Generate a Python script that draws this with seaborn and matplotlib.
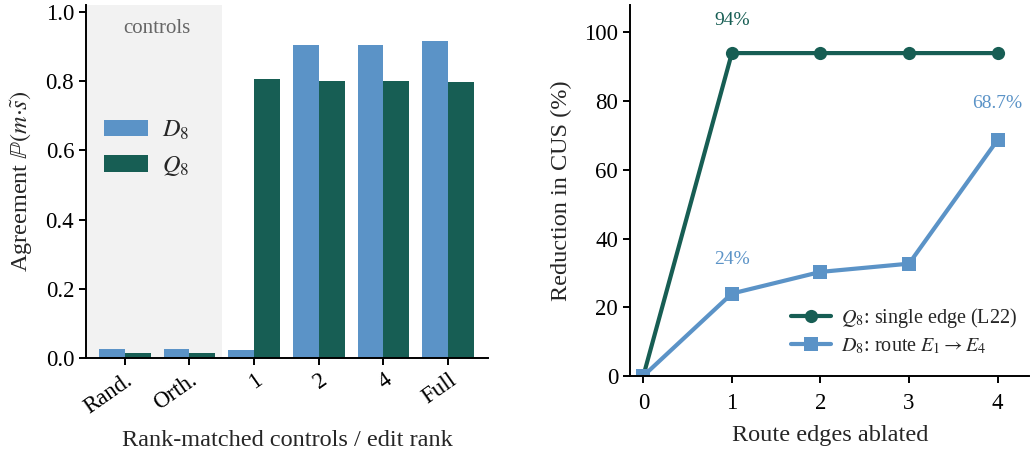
import numpy as np
import pandas as pd
import matplotlib
matplotlib.use("Agg")
import matplotlib.pyplot as plt
import seaborn as sns

# ---- data ----
ranks = ["Rand.", "Orth.", "1", "2", "4", "Full"]
agree_d8 = [0.027, 0.027, 0.024, 0.903, 0.905, 0.917]
agree_q8 = [0.015, 0.015, 0.807, 0.801, 0.801, 0.798]

edges_ablated = [0, 1, 2, 3, 4]
cus_q8 = [0.0, 94.0, 94.0, 94.0, 94.0]
cus_d8 = [0.0, 24.0, 30.3, 32.7, 68.7]

blue = "#5B93C7"
green = "#175E54"

sns.set_theme(style="ticks")
plt.rcParams["font.family"] = ["Liberation Serif", "DejaVu Serif"]
plt.rcParams["mathtext.fontset"] = "stix"
plt.rcParams["axes.linewidth"] = 1.4
plt.rcParams["xtick.major.width"] = 1.4
plt.rcParams["ytick.major.width"] = 1.4
plt.rcParams["xtick.major.size"] = 5
plt.rcParams["ytick.major.size"] = 5
plt.rcParams["xtick.color"] = "black"
plt.rcParams["ytick.color"] = "black"
plt.rcParams["axes.edgecolor"] = "black"

TICK = 16.5
LABEL = 17.5

fig = plt.figure(figsize=(10.32, 4.54), dpi=100)
ax1 = fig.add_axes([0.0833, 0.2115, 0.3897, 0.7775])
ax2 = fig.add_axes([0.6105, 0.1718, 0.3870, 0.8172])

# ---- left: agreement bars ----
bars = pd.DataFrame({
    "rank": ranks * 2,
    "agree": agree_d8 + agree_q8,
    "model": ["$D_8$"] * len(ranks) + ["$Q_8$"] * len(ranks),
})
ax1.axvspan(-0.6, 1.5, color="#f2f2f2", zorder=0, lw=0)
sns.barplot(data=bars, x="rank", y="agree", hue="model", order=ranks,
            hue_order=["$D_8$", "$Q_8$"], palette=[blue, green],
            width=0.8, saturation=1, linewidth=0, ax=ax1, zorder=2)
ax1.text(0.5, 0.952, "controls", ha="center", va="center", fontsize=15,
         color="#666666")
ax1.set_xlim(-0.6, 5.62)
ax1.set_ylim(0, 1.02)
ax1.set_yticks([0.0, 0.2, 0.4, 0.6, 0.8, 1.0])
ax1.set_yticklabels(["0.0", "0.2", "0.4", "0.6", "0.8", "1.0"])
ax1.tick_params(axis="both", labelsize=TICK)
plt.setp(ax1.get_xticklabels(), rotation=35, ha="right", rotation_mode="anchor")
ax1.set_xlabel("Rank-matched controls / edit rank", fontsize=LABEL, labelpad=9)
ax1.set_ylabel(r"Agreement $\mathbb{P}(m{\cdot}\tilde{s})$", fontsize=LABEL,
               labelpad=8)
ax1.legend(loc="upper left", bbox_to_anchor=(-0.01, 0.74), frameon=False,
           fontsize=LABEL, handlelength=1.8, handleheight=0.65,
           handletextpad=0.6, labelspacing=0.5)
sns.despine(ax=ax1)

# ---- right: CUS reduction lines ----
lines = pd.DataFrame({
    "edges": edges_ablated * 2,
    "reduction": cus_q8 + cus_d8,
    "series": ["$Q_8$: single edge (L22)"] * 5 + [r"$D_8$: route $E_1 \to E_4$"] * 5,
})
sns.lineplot(data=lines, x="edges", y="reduction", hue="series", style="series",
             markers=["o", "s"], dashes=False, palette=[green, blue],
             linewidth=3.0, markersize=9.5, markeredgewidth=0, ax=ax2)
ax2.text(1, 103.5, "94%", color=green, ha="center", va="center", fontsize=14)
ax2.text(1, 34.0, "24%", color=blue, ha="center", va="center", fontsize=14)
ax2.text(4, 79.3, "68.7%", color=blue, ha="center", va="center", fontsize=14)
ax2.set_xlim(-0.15, 4.36)
ax2.set_ylim(0, 108)
ax2.set_xticks(edges_ablated)
ax2.set_yticks([0, 20, 40, 60, 80, 100])
ax2.tick_params(axis="both", labelsize=TICK)
ax2.tick_params(axis="x", pad=7)
ax2.set_xlabel("Route edges ablated", fontsize=LABEL, labelpad=8)
ax2.set_ylabel("Reduction in CUS (%)", fontsize=LABEL, labelpad=9)
ax2.legend(loc="lower right", bbox_to_anchor=(1.015, 0.005), frameon=False,
           fontsize=14.5, handlelength=2.0, handletextpad=0.5, labelspacing=0.3)
sns.despine(ax=ax2)

fig.savefig("out.png", dpi=100)
